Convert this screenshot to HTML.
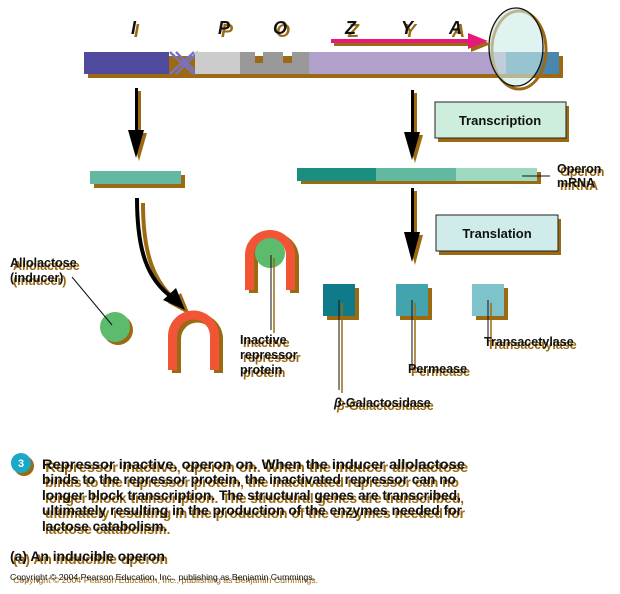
<!DOCTYPE html>
<html><head><meta charset="utf-8"><style>
html,body{margin:0;padding:0;background:#fff;width:620px;height:594px;overflow:hidden}
svg text{font-family:"Liberation Sans",Arial,sans-serif;fill:#111}
.s{text-shadow:3px 3px 0 #9b6a12}
.b{font-weight:bold}
</style></head><body>
<svg width="620" height="594" viewBox="0 0 620 594" xmlns="http://www.w3.org/2000/svg">
<!-- letters -->
<g font-size="18" font-weight="bold" font-style="italic">
<text class="s" x="131" y="34">I</text>
<text class="s" x="218" y="34">P</text>
<text class="s" x="273" y="34">O</text>
<text class="s" x="345" y="34">Z</text>
<text class="s" x="401" y="34">Y</text>
<text class="s" x="449" y="34">A</text>
</g>
<!-- DNA shadow -->
<rect x="88" y="56" width="475" height="22" fill="#9b6a12"/>
<rect x="84" y="52" width="85" height="22" fill="#4f4a9e"/>
<path d="M170,52 C178,60 186,66 194,74 M170,74 C178,66 186,60 194,52 M176,52 C184,60 190,66 198,74 M176,74 C184,66 190,60 198,52" stroke="#7a72c0" stroke-width="2.5" fill="none"/>
<rect x="195" y="52" width="45" height="22" fill="#cccccc"/>
<path d="M240,52 H255 V63 H263 V52 H283 V63 H292 V52 H309 V74 H240 Z" fill="#999"/>
<rect x="309" y="52" width="197" height="22" fill="#b1a0cb"/>
<rect x="506" y="52" width="53" height="22" fill="#4a87b0"/>
<ellipse cx="519" cy="50" rx="27" ry="39" fill="none" stroke="#9b6a12" stroke-width="3"/>
<ellipse cx="516" cy="47" rx="27" ry="39" fill="#cdebe6" fill-opacity="0.6" stroke="#111" stroke-width="1.3"/>
<!-- pink arrow -->
<g transform="translate(3,3)" fill="#9b6a12"><rect x="331" y="39" width="140" height="4"/><polygon points="468,33 488,41 468,49"/></g>
<rect x="331" y="39" width="140" height="4" fill="#e8187a"/><polygon points="468,33 488,41 468,49" fill="#e8187a"/>
<!-- vertical arrows -->
<g fill="#9b6a12" transform="translate(3,3)">
<rect x="135" y="88" width="3" height="46"/><polygon points="128,130 144,130 136,158"/>
<rect x="411" y="90" width="3" height="46"/><polygon points="404,132 420,132 412,160"/>
<rect x="411" y="188" width="3" height="48"/><polygon points="404,232 420,232 412,262"/>
</g>
<rect x="135" y="88" width="3" height="46" fill="#000"/><polygon points="128,130 144,130 136,158" fill="#000"/>
<rect x="411" y="90" width="3" height="46" fill="#000"/><polygon points="404,132 420,132 412,160" fill="#000"/>
<rect x="411" y="188" width="3" height="48" fill="#000"/><polygon points="404,232 420,232 412,262" fill="#000"/>
<!-- boxes -->
<rect x="438" y="106" width="131" height="36" fill="#9b6a12"/>
<rect x="435" y="102" width="131" height="36" fill="#cdeedd" stroke="#222" stroke-width="1"/>
<text x="500" y="125" font-size="13" font-weight="bold" text-anchor="middle">Transcription</text>
<rect x="439" y="219" width="122" height="36" fill="#9b6a12"/>
<rect x="436" y="215" width="122" height="36" fill="#d0ecea" stroke="#222" stroke-width="1"/>
<text x="497" y="238" font-size="13" font-weight="bold" text-anchor="middle">Translation</text>
<!-- mRNA -->
<rect x="301" y="172" width="240" height="12" fill="#9b6a12"/>
<rect x="297" y="168" width="79" height="13" fill="#1a8f80"/>
<rect x="376" y="168" width="80" height="13" fill="#63b9a0"/>
<rect x="456" y="168" width="81" height="13" fill="#9ed9c2"/>
<line x1="522" y1="176" x2="550" y2="176" stroke="#111" stroke-width="1"/>
<text class="s b" x="557" y="173" font-size="12.5">Operon</text>
<text class="s b" x="557" y="187" font-size="12.5">mRNA</text>
<!-- enzymes -->
<g fill="#9b6a12"><rect x="327" y="288" width="32" height="32"/><rect x="400" y="288" width="32" height="32"/><rect x="476" y="288" width="32" height="32"/></g>
<rect x="323" y="284" width="32" height="32" fill="#0e7a8a"/>
<rect x="396" y="284" width="32" height="32" fill="#44a4ad"/>
<rect x="472" y="284" width="32" height="32" fill="#7ec3cb"/>
<g stroke="#9b6a12" stroke-width="1.5"><line x1="342" y1="303" x2="342" y2="393"/><line x1="415" y1="303" x2="415" y2="371"/><line x1="491" y1="303" x2="491" y2="340"/></g>
<g stroke="#111" stroke-width="1"><line x1="339" y1="300" x2="339" y2="390"/><line x1="412" y1="300" x2="412" y2="368"/><line x1="488" y1="300" x2="488" y2="337"/></g>
<text class="s b" x="334" y="407" font-size="12.5"><tspan font-style="italic">β</tspan>-Galactosidase</text>
<text class="s b" x="408" y="373" font-size="12.5">Permease</text>
<text class="s b" x="484" y="346" font-size="12.5">Transacetylase</text>
<!-- left bar -->
<rect x="94" y="175" width="91" height="13" fill="#9b6a12"/>
<rect x="90" y="171" width="91" height="13" fill="#62b8a0"/>
<!-- curved arrow -->
<path d="M140,200 C140,250 150,280 176,300" stroke="#9b6a12" stroke-width="4" fill="none" transform="translate(3,3)"/>
<polygon points="165,300 187,312 178,290" fill="#9b6a12" transform="translate(3,3)"/>
<path d="M137,198 C137,250 147,280 173,298" stroke="#000" stroke-width="4" fill="none"/>
<polygon points="163,300 185,310 176,288" fill="#000"/>
<!-- repressor 1 -->
<path d="M168,370 L168,336 A25.5,25.5 0 0 1 219,336 L219,370 L210,370 L210,336 A16.5,16.5 0 0 0 177,336 L177,370 Z" fill="#9b6a12" transform="translate(4,3)"/>
<path d="M168,370 L168,336 A25.5,25.5 0 0 1 219,336 L219,370 L210,370 L210,336 A16.5,16.5 0 0 0 177,336 L177,370 Z" fill="#f25535"/>
<!-- repressor 2 -->
<path d="M245,290 L245,255 A25,25 0 0 1 295,255 L295,290 L286,290 L286,255 A16,16 0 0 0 254,255 L254,290 Z" fill="#9b6a12" transform="translate(4,3)"/>
<path d="M245,290 L245,255 A25,25 0 0 1 295,255 L295,290 L286,290 L286,255 A16,16 0 0 0 254,255 L254,290 Z" fill="#f25535"/>
<circle cx="270" cy="253" r="15" fill="#5dbb6d"/>
<line x1="274" y1="258" x2="274" y2="333" stroke="#9b6a12" stroke-width="1.5"/>
<line x1="271" y1="255" x2="271" y2="330" stroke="#111" stroke-width="1"/>
<text class="s b" x="240" y="344" font-size="12.5">Inactive</text>
<text class="s b" x="240" y="359" font-size="12.5">repressor</text>
<text class="s b" x="240" y="374" font-size="12.5">protein</text>
<!-- allolactose -->
<circle cx="118" cy="330" r="15" fill="#9b6a12"/>
<circle cx="115" cy="327" r="15" fill="#5dbb6d"/>
<line x1="72" y1="277" x2="112" y2="325" stroke="#111" stroke-width="1"/>
<text class="s b" x="10" y="267" font-size="12.5">Allolactose</text>
<text class="s b" x="10" y="282" font-size="12.5">(inducer)</text>
<!-- caption -->
<circle cx="24" cy="466" r="10" fill="#9b6a12"/>
<circle cx="21" cy="463" r="10" fill="#1aa8c8"/>
<text x="21" y="467" font-size="11" style="fill:#fff" text-anchor="middle" font-weight="bold">3</text>
<g font-size="13.6" font-weight="bold">
<text class="s" x="42" y="469" textLength="423" lengthAdjust="spacingAndGlyphs">Repressor inactive, operon on. When the inducer allolactose</text>
<text class="s" x="42" y="484" textLength="414" lengthAdjust="spacingAndGlyphs">binds to the repressor protein, the inactivated repressor can no</text>
<text class="s" x="42" y="500" textLength="419" lengthAdjust="spacingAndGlyphs">longer block transcription. The structural genes are transcribed,</text>
<text class="s" x="42" y="515" textLength="420" lengthAdjust="spacingAndGlyphs">ultimately resulting in the production of the enzymes needed for</text>
<text class="s" x="42" y="531">lactose catabolism.</text>
</g>
<text class="s b" x="10" y="561" font-size="14" textLength="155" lengthAdjust="spacingAndGlyphs">(a) An inducible operon</text>
<text class="s" x="10" y="580" font-size="8.5" textLength="305" lengthAdjust="spacingAndGlyphs">Copyright © 2004 Pearson Education, Inc., publishing as Benjamin Cummings.</text>
</svg>
</body></html>
